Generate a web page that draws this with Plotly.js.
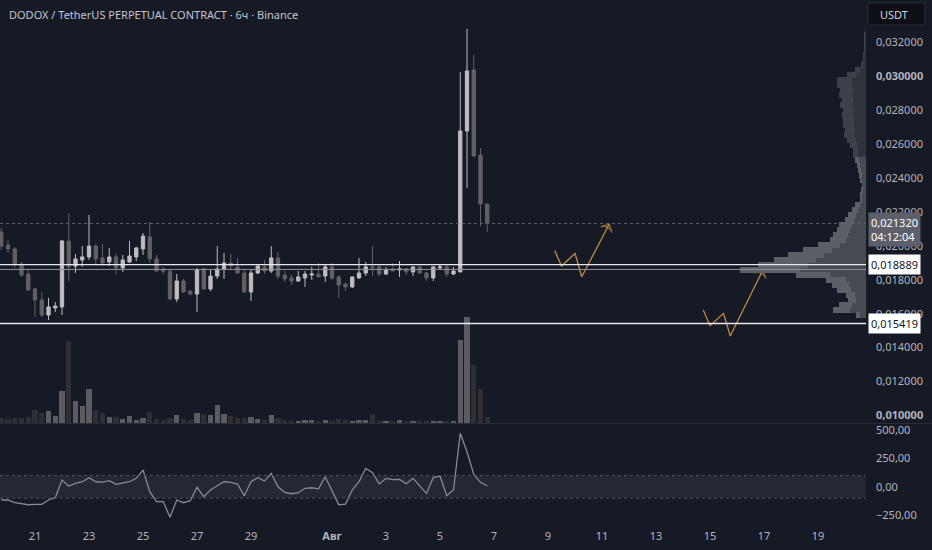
<!DOCTYPE html>
<html>
<head>
<meta charset="utf-8">
<script src="https://cdn.plot.ly/plotly-3.0.1.min.js"></script>
<style>
html,body{margin:0;padding:0;background:#161a25;}
#chart{width:932px;height:550px;}
</style>
</head>
<body>
<div id="chart"></div>
<script>
// ---------- DATA ----------
// 6h candles starting 2023-07-19 18:00 (regular time index)
const candleStart = Date.UTC(2023, 6, 19, 18);
const candleStepHours = 6;

const open = [0.02082,0.02005,0.01982,0.01893,0.01834,0.01746,0.01681,0.01592,0.01634,0.01640,
  0.02029,0.01881,0.01917,0.01935,0.01999,0.01929,0.01905,0.01935,0.01870,0.01905,
  0.01935,0.01982,0.02053,0.01923,0.01858,0.01852,0.01687,0.01793,0.01734,0.01716,
  0.01864,0.01746,0.01822,0.01864,0.01899,0.01876,0.01840,0.01728,0.01840,0.01876,
  0.01852,0.01929,0.01828,0.01811,0.01793,0.01811,0.01828,0.01834,0.01822,0.01876,
  0.01817,0.01775,0.01758,0.01811,0.01840,0.01876,0.01876,0.01834,0.01864,0.01858,
  0.01864,0.01846,0.01876,0.01840,0.01811,0.01870,0.01876,0.01834,0.01846,0.02678,
  0.03038,0.02536,0.02247];
const high = [0.02106,0.02035,0.01994,0.01905,0.01864,0.01752,0.01728,0.01693,0.01669,0.02035,
  0.02194,0.01952,0.01999,0.02182,0.02011,0.02011,0.01988,0.01958,0.01946,0.02029,
  0.01994,0.02076,0.02141,0.01946,0.01876,0.01864,0.01834,0.01805,0.01740,0.01870,
  0.01870,0.01858,0.01999,0.01958,0.01952,0.01929,0.01858,0.01858,0.01893,0.01917,
  0.01999,0.01964,0.01852,0.01828,0.01852,0.01852,0.01876,0.01899,0.01887,0.01899,
  0.01828,0.01781,0.01817,0.01929,0.01905,0.01999,0.01893,0.01876,0.01899,0.01911,
  0.01870,0.01876,0.01876,0.01846,0.01881,0.01893,0.01887,0.01876,0.03026,0.03280,
  0.03126,0.02578,0.02247];
const low = [0.01976,0.01958,0.01870,0.01817,0.01734,0.01581,0.01581,0.01563,0.01610,0.01592,
  0.01793,0.01840,0.01876,0.01917,0.01893,0.01881,0.01881,0.01828,0.01846,0.01899,
  0.01911,0.01946,0.01899,0.01846,0.01834,0.01681,0.01669,0.01722,0.01710,0.01610,
  0.01740,0.01734,0.01805,0.01805,0.01858,0.01834,0.01722,0.01675,0.01834,0.01834,
  0.01840,0.01805,0.01787,0.01769,0.01787,0.01758,0.01799,0.01817,0.01787,0.01799,
  0.01693,0.01734,0.01752,0.01805,0.01822,0.01822,0.01822,0.01828,0.01852,0.01817,
  0.01828,0.01822,0.01834,0.01793,0.01793,0.01858,0.01817,0.01828,0.01846,0.02342,
  0.02525,0.02117,0.02082];
const close = [0.01999,0.01982,0.01893,0.01828,0.01740,0.01681,0.01592,0.01640,0.01645,0.02029,
  0.01876,0.01923,0.01935,0.01999,0.01923,0.01899,0.01935,0.01870,0.01917,0.01940,
  0.01988,0.02058,0.01923,0.01852,0.01852,0.01687,0.01793,0.01728,0.01716,0.01858,
  0.01746,0.01822,0.01864,0.01899,0.01881,0.01840,0.01728,0.01840,0.01881,0.01852,
  0.01929,0.01822,0.01805,0.01793,0.01817,0.01834,0.01834,0.01817,0.01876,0.01811,
  0.01769,0.01758,0.01817,0.01840,0.01876,0.01870,0.01834,0.01858,0.01852,0.01864,
  0.01846,0.01876,0.01840,0.01811,0.01876,0.01876,0.01834,0.01852,0.02678,0.03032,
  0.02530,0.02247,0.02132];
// volume (thousands, estimated)
const volume = [50,40,50,50,60,130,100,120,70,320,
  820,220,170,340,130,100,60,60,40,70,
  30,50,110,40,30,50,80,40,30,100,
  90,80,180,90,70,50,50,60,40,30,
  80,50,30,20,20,30,30,20,30,20,
  40,30,20,30,30,90,20,20,20,30,
  20,20,20,20,20,20,20,20,830,1060,
  580,340,60];
// CCI-like oscillator
const osc = [-117,-117,-141,-147,-159,-155,-155,-117,-97,59,
  6,30,44,80,44,41,53,21,35,44,
  74,147,-44,-132,-132,-270,-117,-141,-123,-5,
  -88,-29,9,44,39,24,-79,44,80,50,
  118,0,-50,-62,-53,-14,-9,-18,88,-35,
  -159,-153,-29,44,162,124,24,74,62,65,
  27,74,6,-59,80,94,-79,-29,471,309,
  109,39,6];

// visible-range volume profile
const profPrice = [0.03274,0.03244,0.03215,0.03185,0.03156,0.03126,0.03097,0.03067,0.03038,0.03008,
  0.02979,0.02949,0.02920,0.02890,0.02861,0.02831,0.02802,0.02772,0.02743,0.02713,
  0.02684,0.02654,0.02625,0.02595,0.02566,0.02536,0.02507,0.02477,0.02448,0.02418,
  0.02389,0.02359,0.02330,0.02300,0.02271,0.02241,0.02212,0.02182,0.02153,0.02123,
  0.02094,0.02064,0.02035,0.02005,0.01976,0.01946,0.01917,0.01887,0.01858,0.01828,
  0.01799,0.01769,0.01740,0.01710,0.01681,0.01651,0.01622,0.01592];
const profInner = [1,1,1,1,1,2,2,3,6,10,14,14,13,14,13,14,12,13,12,12,
  11,12,10,9,8,8,7,6,5,4,4,3,3,4,4,6,8,10,12,14,
  16,18,20,26,34,42,50,58,66,36,20,17,15,11,10,14,16,6];
const profOuter = [0,1,1,1,1,1,1,2,5,9,15,15,13,13,11,12,11,11,11,11,
  10,10,9,7,5,5,4,3,3,3,2,1,2,2,2,5,6,8,9,13,
  13,15,16,22,29,36,42,50,60,34,20,17,14,9,8,13,17,4];
const valueAreaTop = 0.02507;

// price levels & drawings
const lastPrice = 0.02132;
const lastPriceText = "0,021320";
const countdownText = "04:12:04";
const levelPrices = [0.018889, 0.015419];
const levelTexts = ["0,018889", "0,015419"];
const grayLinePrice = 0.01861;
const path1Times = ['2023-08-09 06:00','2023-08-09 12:00','2023-08-10 00:00','2023-08-10 06:00','2023-08-11 06:30'];
const path1Prices = [0.01972,0.01881,0.01956,0.01818,0.02129];
const path2Times = ['2023-08-14 18:00','2023-08-15 00:00','2023-08-15 12:00','2023-08-15 18:00','2023-08-16 23:00'];
const path2Prices = [0.01622,0.01529,0.01602,0.01468,0.01858];

// axes ticks
const xTickVals = ['2023-07-21','2023-07-23','2023-07-25','2023-07-27','2023-07-29','2023-08-01','2023-08-03','2023-08-05','2023-08-07','2023-08-09','2023-08-11','2023-08-13','2023-08-15','2023-08-17','2023-08-19'];
const xTickText = ['21','23','25','27','29','<b>Авг</b>','3','5','7','9','11','13','15','17','19'];
const priceTickVals = [0.010,0.012,0.014,0.016,0.018,0.020,0.022,0.024,0.026,0.028,0.030,0.032];
const priceTickText = ['<b>0,010000</b>','0,012000','0,014000','0,016000','0,018000','0,020000','0,022000','0,024000','0,026000','0,028000','<b>0,030000</b>','0,032000'];
const oscTickVals = [500,250,0,-250];
const oscTickText = ['500,00','250,00','0,00','\u2212250,00'];
const titleText = "DODOX / TetherUS PERPETUAL CONTRACT · 6ч · Binance";

// ---------- BUILD ----------
const times = open.map((_, i) => {
  const d = new Date(candleStart + i * candleStepHours * 3600e3);
  return d.toISOString().slice(0, 16).replace('T', ' ');
});
const bull = open.map((o, i) => close[i] >= o);
const BG = '#161a25';
const TXT = '#b2b5be';
const FONT = 'Noto Sans, sans-serif';

const profInnerColors = profPrice.map(p => p <= valueAreaTop ? '#484a51' : '#30333b');
const profOuterColors = profPrice.map(p => p <= valueAreaTop ? '#5d5f66' : '#3d4048');
const profBinWidth = 0.00032;

const traces = [
  {type:'bar', orientation:'h', x:profInner, y:profPrice, xaxis:'x2', yaxis:'y',
   width:profBinWidth, marker:{color:profInnerColors, line:{width:0}}, hoverinfo:'skip'},
  {type:'bar', orientation:'h', x:profOuter, y:profPrice, xaxis:'x2', yaxis:'y',
   width:profBinWidth, marker:{color:profOuterColors, line:{width:0}}, hoverinfo:'skip'},
  {type:'bar', x:times, y:volume, xaxis:'x', yaxis:'y2',
   width:candleStepHours*3600e3*0.8,
   marker:{color:bull.map(b => b ? '#5b5c62' : '#2d2f35'), line:{width:0}}, hoverinfo:'skip'},
  {type:'candlestick', x:times, open:open, high:high, low:low, close:close, xaxis:'x', yaxis:'y',
   increasing:{line:{color:'#bdbdc0', width:1}, fillcolor:'#bdbdc0'},
   decreasing:{line:{color:'#616165', width:1}, fillcolor:'#616165'},
   whiskerwidth:0, hoverinfo:'skip'},
  {type:'scatter', mode:'lines', x:times, y:osc, xaxis:'x', yaxis:'y3',
   line:{color:'#878a93', width:1.3}, hoverinfo:'skip'},
  {type:'scatter', mode:'lines+markers', x:path1Times, y:path1Prices, xaxis:'x', yaxis:'y',
   line:{color:'#c08a43', width:1.3},
   marker:{symbol:'arrow-wide-open', size:path1Times.map((_, i) => i === path1Times.length-1 ? 9 : 0),
           angleref:'previous', color:'#c08a43', line:{color:'#c08a43', width:1.3}}, hoverinfo:'skip'},
  {type:'scatter', mode:'lines+markers', x:path2Times, y:path2Prices, xaxis:'x', yaxis:'y',
   line:{color:'#c08a43', width:1.3},
   marker:{symbol:'arrow-wide-open', size:path2Times.map((_, i) => i === path2Times.length-1 ? 9 : 0),
           angleref:'previous', color:'#c08a43', line:{color:'#c08a43', width:1.3}}, hoverinfo:'skip'}
];

const mainDomain = [0.1897, 1];
const oscDomain = [0, 0.1877];

const shapes = [
  {type:'rect', xref:'paper', yref:'y3', x0:0, x1:1, y0:-100, y1:100,
   fillcolor:'rgba(120,124,138,0.15)', line:{width:0}, layer:'below'},
  {type:'line', xref:'paper', yref:'y3', x0:0, x1:1, y0:100, y1:100, line:{color:'#4c505c', width:1, dash:'dot'}},
  {type:'line', xref:'paper', yref:'y3', x0:0, x1:1, y0:-100, y1:-100, line:{color:'#4c505c', width:1, dash:'dot'}},
  {type:'line', xref:'paper', yref:'paper', x0:0, x1:1.08, y0:0.1887, y1:0.1887, line:{color:'#2a2e39', width:1}},
  {type:'line', xref:'paper', yref:'y', x0:0, x1:1, y0:lastPrice, y1:lastPrice, line:{color:'#5d606b', width:1, dash:'dot'}},
  {type:'line', xref:'paper', yref:'y', x0:0, x1:1, y0:grayLinePrice, y1:grayLinePrice, line:{color:'#8f929b', width:1}},
  ...levelPrices.map(p => ({type:'line', xref:'paper', yref:'y', x0:0, x1:1, y0:p, y1:p, line:{color:'#e6e8ee', width:1.3}})),
  {type:'rect', xref:'paper', yref:'paper', x0:1.0023, x1:1.068, y0:0.952, y1:0.9943,
   fillcolor:'#0d0f15', line:{color:'#2a2e39', width:1}}
];

const annotations = [
  {xref:'paper', yref:'paper', x:0, y:0.973, xshift:7, xanchor:'left', yanchor:'middle', showarrow:false,
   text:titleText, font:{family:FONT, size:11, color:'#c3c6ce'}},
  {xref:'paper', yref:'paper', x:1.0023, y:0.9731, xshift:10, xanchor:'left', yanchor:'middle', showarrow:false,
   text:'USDT', font:{family:FONT, size:11, color:'#d1d4dc'}},
  {xref:'paper', yref:'y', x:1, y:lastPrice, xshift:2, yshift:-6, xanchor:'left', yanchor:'middle', showarrow:false,
   text:lastPriceText + '<br>' + countdownText, align:'left', bgcolor:'#5d606b', borderpad:2,
   font:{family:FONT, size:11, color:'#ffffff'}},
  ...levelPrices.map((p, i) => ({xref:'paper', yref:'y', x:1, y:p, xshift:2, xanchor:'left', yanchor:'middle', showarrow:false,
   text:levelTexts[i], bgcolor:'#ffffff', borderpad:2, font:{family:FONT, size:11, color:'#131722'}}))
];

const axisCommon = {showgrid:false, zeroline:false, showline:false, fixedrange:true};

const layout = {
  width:932, height:550,
  margin:{l:0, r:66, t:0, b:28},
  paper_bgcolor:BG, plot_bgcolor:BG,
  showlegend:false, hovermode:false,
  barmode:'stack', bargap:0,
  font:{family:FONT, size:11, color:TXT},
  xaxis:Object.assign({}, axisCommon, {
    type:'date', anchor:'y3', domain:[0,1],
    range:['2023-07-19 16:53', '2023-08-20 18:40'],
    tickmode:'array', tickvals:xTickVals, ticktext:xTickText,
    ticks:'', ticklabelstandoff:6, tickfont:{family:FONT, size:11, color:TXT},
    rangeslider:{visible:false}
  }),
  xaxis2:Object.assign({}, axisCommon, {
    overlaying:'x', anchor:'y', range:[866, 0], visible:false
  }),
  yaxis:Object.assign({}, axisCommon, {
    domain:mainDomain, anchor:'x', side:'right',
    range:[0.009551, 0.034508],
    tickmode:'array', tickvals:priceTickVals, ticktext:priceTickText,
    ticks:'', ticklabelstandoff:9, tickfont:{family:FONT, size:11, color:TXT}
  }),
  yaxis2:Object.assign({}, axisCommon, {
    overlaying:'y', anchor:'x', side:'right', range:[0, 4230], visible:false
  }),
  yaxis3:Object.assign({}, axisCommon, {
    domain:oscDomain, anchor:'x', side:'right',
    range:[-311, 553],
    tickmode:'array', tickvals:oscTickVals, ticktext:oscTickText,
    ticks:'', ticklabelstandoff:9, tickfont:{family:FONT, size:11, color:TXT}
  }),
  shapes:shapes,
  annotations:annotations
};

Plotly.newPlot('chart', traces, layout, {displayModeBar:false, staticPlot:true});
</script>
</body>
</html>
